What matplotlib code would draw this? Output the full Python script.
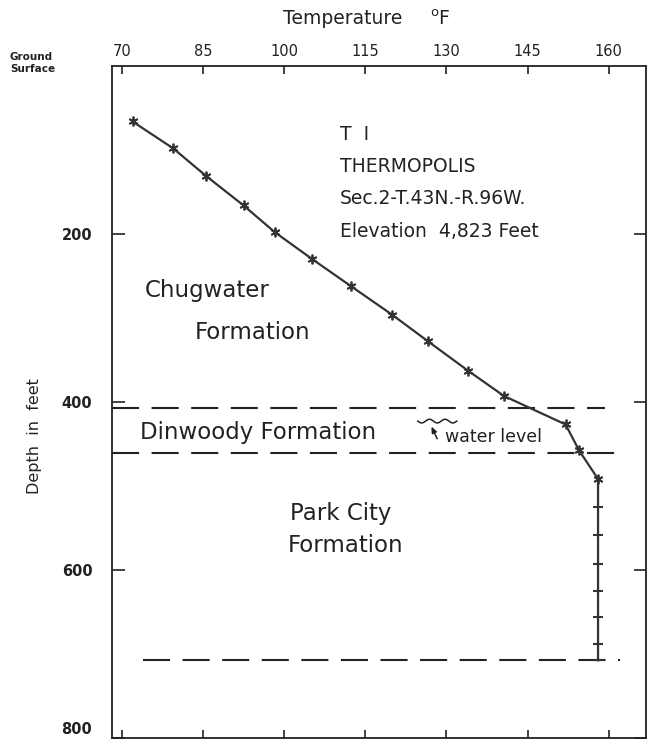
import numpy as np
import matplotlib

matplotlib.use("Agg")
import matplotlib.pyplot as plt

# temperature log T1, Thermopolis
temp_f = [72.0, 79.5, 85.6, 92.5, 98.3, 105.2, 112.3, 119.9, 126.6, 134.0, 140.6,
          152.0, 154.5, 158.0, 158.0, 158.0, 158.0, 158.0, 158.0, 158.0, 158.0]
depth_ft = [66, 98, 131, 166, 198, 230, 262, 296, 328, 363, 393,
            427, 458, 492, 525, 559, 593, 626, 657, 689, 708]
n_star = 14  # readings drawn as asterisks; the rest sit on the isothermal segment

# formation boundaries (depth, temperature span of the dashed line)
boundary_depth = [407, 461, 708]
boundary_start = [68.2, 68.2, 74.0]
boundary_end = [159.3, 161.7, 162.0]

temp_ticks = [70, 85, 100, 115, 130, 145, 160]
depth_ticks = [200, 400, 600, 800]

plt.rcParams["font.family"] = "DejaVu Sans"
INK = "#222222"

fig = plt.figure(figsize=(6.5, 7.44), dpi=100)
W, H = 650, 744
left, right, top, bottom = 111.7, 646, 66.1, 737.5
ax = fig.add_axes([left / W, 1 - bottom / H, (right - left) / W, (bottom - top) / H])

ax.set_xlim(68.15, 166.86)
ax.set_ylim(800, 0)

for d, x0, x1 in zip(boundary_depth, boundary_start, boundary_end):
    ax.plot([x0, x1], [d, d], color=INK, lw=1.5, dashes=(13, 6), zorder=2)

ax.plot(temp_f, depth_ft, color="#333333", lw=1.6, zorder=3)
ax.plot(temp_f[:n_star], depth_ft[:n_star], ls="none", marker=(6, 2, 0),
        markersize=7, markeredgewidth=1.3, markeredgecolor="#333333", zorder=4)
ax.plot(temp_f[n_star:], depth_ft[n_star:], ls="none", marker="_",
        markersize=6.5, markeredgewidth=1.5, markeredgecolor="#333333", zorder=4)

ax.set_xticks(temp_ticks)
ax.set_yticks(depth_ticks)
ax.tick_params(axis="x", which="both", top=True, bottom=True, labeltop=True,
               labelbottom=False, direction="in", length=6, width=1.2,
               labelsize=10.5, pad=5, colors=INK)
ax.tick_params(axis="y", which="both", left=True, right=True, direction="in",
               length=9, width=1.2, labelsize=10.5, pad=14, colors=INK)
ylabels = ax.get_yticklabels()
for lab in ylabels:
    lab.set_fontweight("bold")
ylabels[-1].set_va("bottom")  # keep the 800 label inside the canvas
for sp in ax.spines.values():
    sp.set_linewidth(1.3)
    sp.set_color(INK)

txt = dict(color=INK, va="center", ha="left")
ax.text(110.3, 82, "T  I", fontsize=13.5, **txt)
ax.text(110.3, 120, "THERMOPOLIS", fontsize=13.5, **txt)
ax.text(110.3, 157.5, "Sec.2-T.43N.-R.96W.", fontsize=13.5, **txt)
ax.text(110.3, 197.3, "Elevation  4,823 Feet", fontsize=13.5, **txt)

ax.text(74.3, 266.8, "Chugwater", fontsize=16.5, **txt)
ax.text(83.5, 318, "Formation", fontsize=16.5, **txt)
ax.text(73.4, 437, "Dinwoody Formation", fontsize=16.5, **txt)
ax.text(101.1, 533.6, "Park City", fontsize=16.5, **txt)
ax.text(100.7, 571.8, "Formation", fontsize=16.5, **txt)

# water level mark
ax.text(129.7, 442, "water level", fontsize=12.5, **txt)
wx = np.linspace(124.7, 131.9, 60)
ax.plot(wx, 423 + 2.2 * np.sin((wx - 124.7) / 7.2 * 5 * np.pi), color=INK, lw=1.1)
ax.annotate("", xy=(127.0, 426.5), xytext=(128.5, 447),
            arrowprops=dict(arrowstyle="-|>,head_length=0.35,head_width=0.15",
                            color=INK, lw=1.1))

fig.text(283 / W, 1 - 19 / H, "Temperature", fontsize=13.5, color=INK,
         va="center", ha="left")
fig.text(430 / W, 1 - 19 / H, r"$^{\mathrm{o}}$F", fontsize=13.5, color=INK,
         va="center", ha="left")
fig.text(10 / W, 1 - 57 / H, "Ground", fontsize=7.5, fontweight="bold",
         color=INK, va="center", ha="left")
fig.text(10 / W, 1 - 69 / H, "Surface", fontsize=7.5, fontweight="bold",
         color=INK, va="center", ha="left")
fig.text(34 / W, 1 - 436 / H, "Depth  in  feet", fontsize=11.5, color=INK,
         rotation=90, va="center", ha="center")

fig.savefig("out.png", dpi=100)
